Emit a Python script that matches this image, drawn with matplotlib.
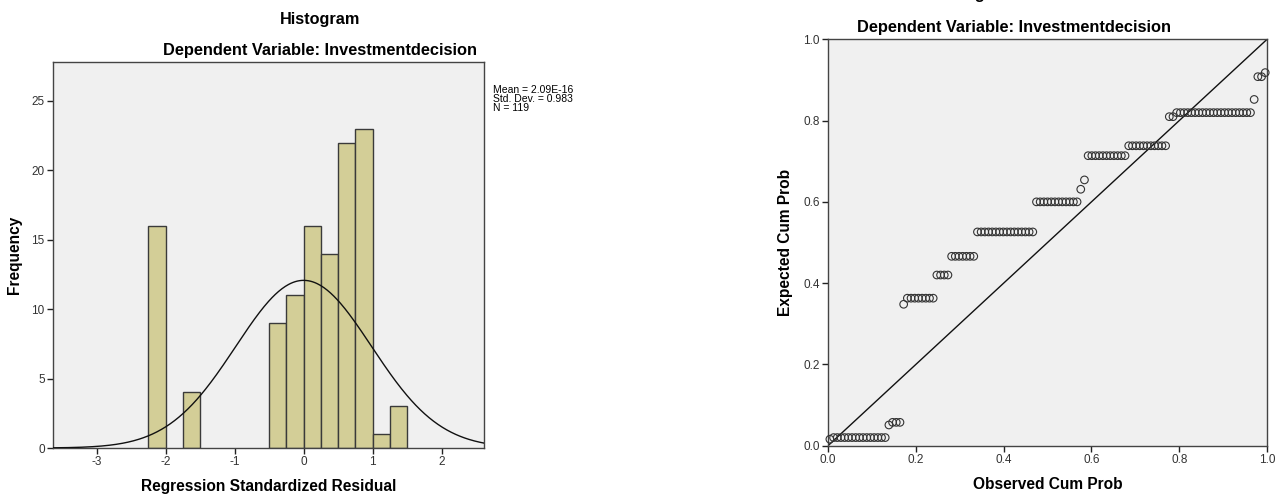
import numpy as np
import matplotlib.pyplot as plt

plt.rcParams['font.family'] = ['Liberation Sans', 'DejaVu Sans']
plt.rcParams['axes.unicode_minus'] = False

# Histogram data (bin width 0.25)
bin_left = [-2.25, -1.75, -0.5, -0.25, 0.0, 0.25, 0.5, 0.75, 1.0, 1.25]
bin_count = [16, 4, 9, 11, 16, 14, 22, 23, 1, 3]
bin_width = 0.25
res_mean = 2.09e-16
res_sd = 0.983
n_obs = 119

# P-P plot: expected cum prob levels (in rank order) and number of cases at each level
pp_expected = [0.016, 0.020, 0.051, 0.0575, 0.348, 0.363, 0.420, 0.466, 0.526, 0.600,
               0.631, 0.654, 0.7136, 0.738, 0.8096, 0.8195, 0.852, 0.908, 0.918]
pp_count = [1, 15, 1, 3, 1, 8, 4, 7, 16, 12,
            1, 1, 11, 11, 2, 21, 1, 2, 1]

bg = '#F0F0F0'
bar_col = '#D3CE97'
spine_col = '#444444'
tick_col = '#333333'

fig = plt.figure(figsize=(12.8, 4.98), dpi=100)

# ---------------- histogram ----------------
ax1 = fig.add_axes([0.0414, 0.1004, 0.3367, 0.7751])
ax1.set_facecolor(bg)
ax1.bar(bin_left, bin_count, width=bin_width, align='edge',
        color=bar_col, edgecolor='#3a3a3a', linewidth=1.0, zorder=2)
xs = np.linspace(-3.7, 2.7, 400)
curve = n_obs * bin_width * np.exp(-0.5 * ((xs - res_mean) / res_sd) ** 2) / (res_sd * np.sqrt(2 * np.pi))
ax1.plot(xs, curve, color='#111111', lw=1.0, zorder=3)
ax1.set_xlim(-3.633, 2.613)
ax1.set_ylim(0, 27.8)
ax1.set_xticks([-3, -2, -1, 0, 1, 2])
ax1.set_yticks([0, 5, 10, 15, 20, 25])
ax1.set_xlabel('Regression Standardized Residual', fontsize=11.2, fontweight='bold', labelpad=8)
ax1.set_ylabel('Frequency', fontsize=11.2, fontweight='bold', labelpad=7)
fig.text(320 / 1280, 1 - 24 / 498, 'Histogram', fontsize=11.7, fontweight='bold',
         ha='center', va='baseline')
fig.text(320 / 1280, 1 - 55 / 498, 'Dependent Variable: Investmentdecision', fontsize=11.8,
         fontweight='bold', ha='center', va='baseline')
fig.text(493 / 1280, 1 - 85 / 498,
         'Mean = 2.09E-16\nStd. Dev. = 0.983\nN = 119',
         fontsize=7.5, ha='left', va='top', linespacing=0.85)

# ---------------- P-P plot ----------------
ax2 = fig.add_axes([0.6469, 0.105, 0.3430, 0.8161])
ax2.set_facecolor(bg)
obs, exp_ = [], []
rank = 0
for lvl, c in zip(pp_expected, pp_count):
    for _ in range(c):
        rank += 1
        obs.append((rank - 0.5) / n_obs)
        exp_.append(lvl)
ax2.plot([0, 1], [0, 1], color='#111111', lw=1.0, zorder=2)
ax2.scatter(obs, exp_, s=30, facecolors='none', edgecolors='#333333',
            linewidths=0.8, zorder=3, clip_on=False)
ax2.set_xlim(0, 1)
ax2.set_ylim(0, 1)
ax2.set_xticks([0, 0.2, 0.4, 0.6, 0.8, 1.0])
ax2.set_yticks([0, 0.2, 0.4, 0.6, 0.8, 1.0])
ax2.set_xticklabels(['0.0', '0.2', '0.4', '0.6', '0.8', '1.0'])
ax2.set_yticklabels(['0.0', '0.2', '0.4', '0.6', '0.8', '1.0'])
ax2.set_xlabel('Observed Cum Prob', fontsize=11.2, fontweight='bold', labelpad=8)
ax2.set_ylabel('Expected Cum Prob', fontsize=11.2, fontweight='bold', labelpad=7)
# main title sits above the picture's top edge in the reference; only its descenders show
fig.text(1014 / 1280, 1 + 0.5 / 498, 'Normal P-P Plot of Regression Standardized Residual',
         fontsize=11.7, fontweight='bold', ha='center', va='baseline')
fig.text(1014 / 1280, 1 - 32 / 498, 'Dependent Variable: Investmentdecision', fontsize=11.8,
         fontweight='bold', ha='center', va='baseline')

for ax in (ax1, ax2):
    for s in ax.spines.values():
        s.set_color(spine_col)
        s.set_linewidth(1.0)
    ax.tick_params(direction='out', length=4, width=1, color='#222222',
                   labelsize=8.5, labelcolor=tick_col, pad=2)

fig.savefig('out.png', dpi=100)
